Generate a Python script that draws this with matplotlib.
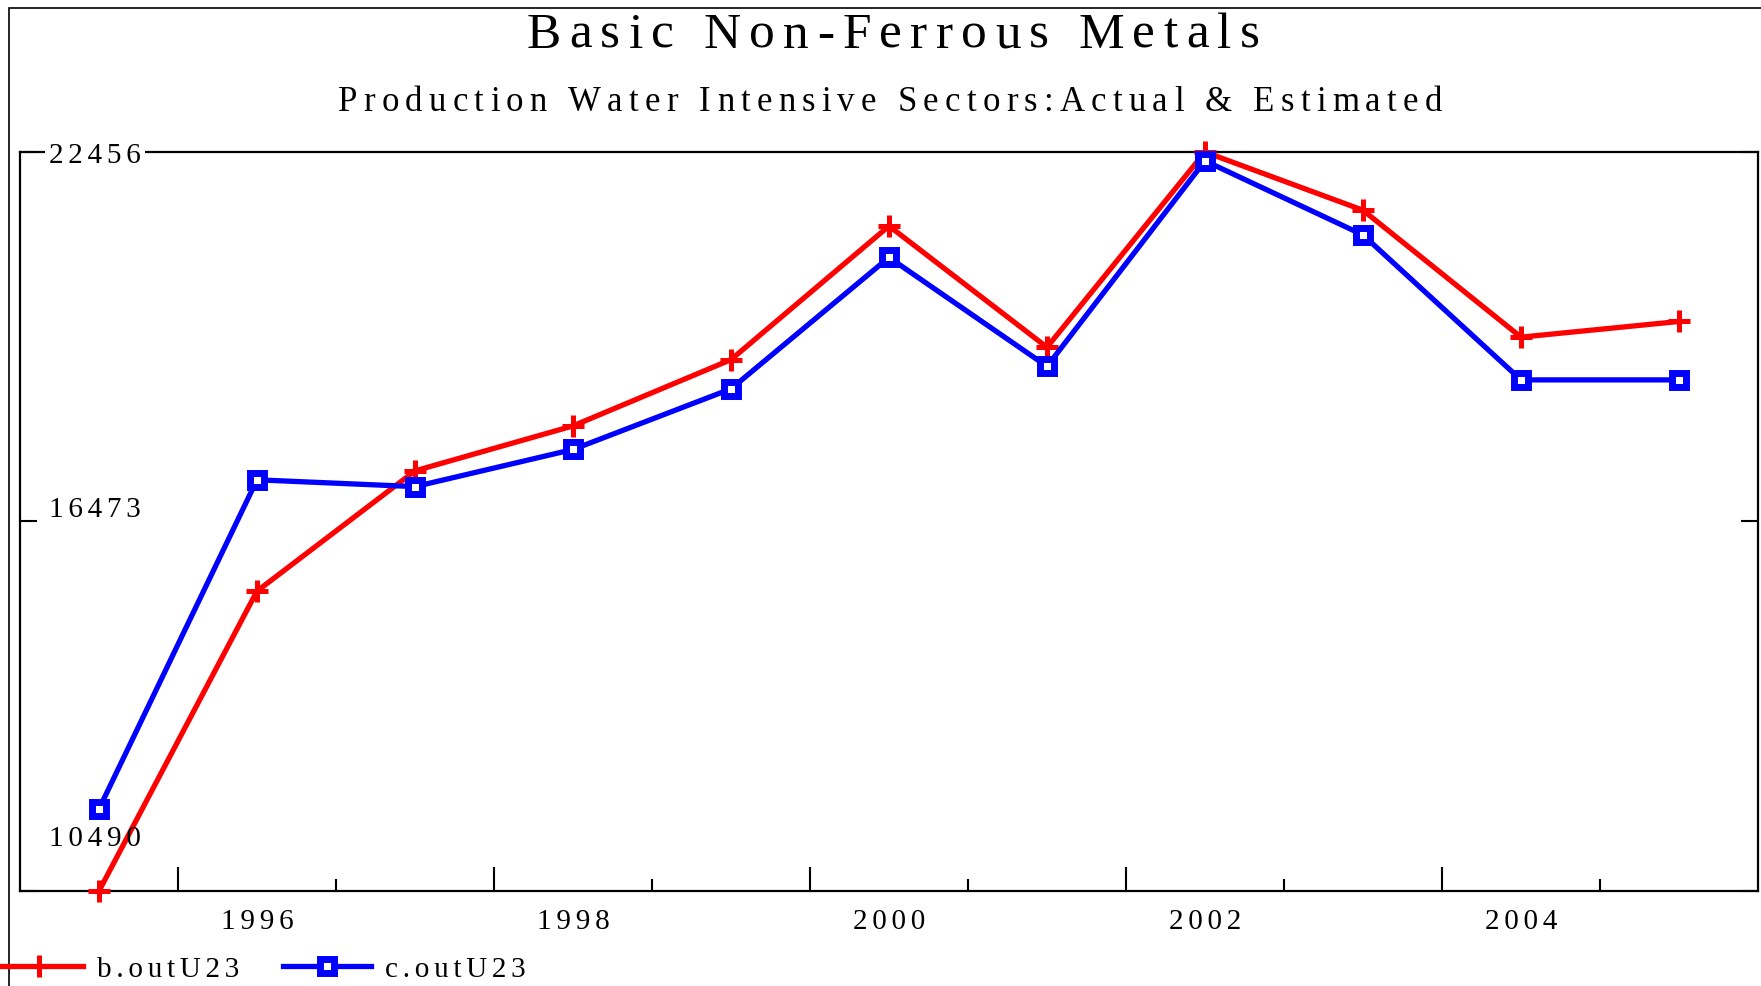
import matplotlib
matplotlib.use("Agg")
import matplotlib.pyplot as plt
import matplotlib.patches as patches
import matplotlib.transforms as mtransforms
from matplotlib.font_manager import FontProperties

# data
years = [1995, 1996, 1997, 1998, 1999, 2000, 2001, 2002, 2003, 2004, 2005]
b_out = [10490, 15346, 17293, 18021, 19094, 21258, 19294, 22456, 21513, 19458, 19712]
c_out = [11818, 17148, 17038, 17639, 18621, 20749, 18985, 22313, 21113, 18766, 18766]
y_ticks = [10490, 16473, 22456]
x_labels = [1996, 1998, 2000, 2002, 2004]
title = "Basic Non-Ferrous Metals"
subtitle = "Production Water Intensive Sectors:Actual & Estimated"

HS = "\u200a"  # hair space


def spread(s, sep=HS * 2):
    return sep.join(list(s))


plt.rcParams['font.family'] = ['Liberation Serif', 'DejaVu Serif']

W, H = 1761, 987
fig = plt.figure(figsize=(W / 100, H / 100), dpi=100)
ax = fig.add_axes([20 / W, 1 - 892 / H, (1758 - 20) / W, (892 - 153) / H])


def tracked_text(xc, base, s, size, total_w):
    # letter-spaced text: place each glyph so the whole line has width total_w (pixels)
    fp = FontProperties(family='Liberation Serif', size=size)
    r = fig.canvas.get_renderer()
    ws = []
    for c in s:
        if c == ' ':
            ws.append(size * 0.25 * 100 / 72)
        else:
            ws.append(r.get_text_width_height_descent(c, fp, ismath=False)[0])
    gap = (total_w - sum(ws)) / (len(s) - 1)
    x = xc - total_w / 2
    for c, w in zip(s, ws):
        if c != ' ':
            fig.text(x / W, 1 - base / H, c, fontproperties=fp, ha='left', va='baseline')
        x += w + gap


ax.plot(years, b_out, color='#ff0000', lw=3.8, marker='+', ms=16, mew=3.6,
        clip_on=False, zorder=3, label=spread('b.outU23'))
ax.plot(years, c_out, color='#0000ff', lw=3.8, marker='s', ms=10.5, mew=5,
        mfc='white', mec='#0000ff', clip_on=False, zorder=3, label=spread('c.outU23'))

ax.set_xlim(1994.5, 2005.5)
ax.set_ylim(y_ticks[0], y_ticks[-1])

for s in ax.spines.values():
    s.set_linewidth(1.6)

# x ticks sit between years: long ones every other year, short ones in between
half = [y + 0.5 for y in years[:-1]]
ax.set_xticks([h for h in half if int(h) % 2 == 1])
ax.set_xticks([h for h in half if int(h) % 2 == 0], minor=True)
ax.tick_params(axis='x', which='major', direction='in', length=17, width=1.5, labelbottom=False)
ax.tick_params(axis='x', which='minor', direction='in', length=9, width=1.5, labelbottom=False)

sec = ax.secondary_xaxis('bottom')
sec.set_xticks(x_labels)
sec.set_xticklabels([spread(str(v)) for v in x_labels], fontsize=21)
sec.tick_params(length=0, pad=12)
sec.spines['bottom'].set_visible(False)

# y ticks on both sides pointing in, labels inside the plot
ax.set_yticks(y_ticks)
ax.tick_params(axis='y', direction='in', length=12, width=1.5, left=True, right=True,
               labelleft=False)
trans = mtransforms.blended_transform_factory(ax.transAxes, ax.transData)
label_dy = [46, 5, -10]  # pixels from the tick to the label baseline
for v, dy in zip(y_ticks, label_dy):
    tr = mtransforms.offset_copy(trans, fig=fig, x=29, y=dy, units='dots')
    t = ax.text(0.0, v, spread(str(v)), transform=tr, fontsize=21,
                ha='left', va='baseline', zorder=5)
    if v == y_ticks[-1]:
        t.set_bbox(dict(facecolor='white', edgecolor='none', pad=3))

# titles
tracked_text(893, 48, title, 37, 733)
tracked_text(890, 111, subtitle, 25, 1104)

# outer frame
fig.patches.append(patches.Rectangle((9 / W, -0.1), 1.0, 1 - 9 / H + 0.1, transform=fig.transFigure,
                                     fill=False, edgecolor='black', lw=1.2))

fig.legend(loc='center left', bbox_to_anchor=(-5 / W, 1 - 970 / H), ncol=2, frameon=False,
           fontsize=21, handlelength=3.0, columnspacing=1.5, handletextpad=0.5,
           borderaxespad=0.0, borderpad=0.0)

fig.savefig('out.png', dpi=100)
